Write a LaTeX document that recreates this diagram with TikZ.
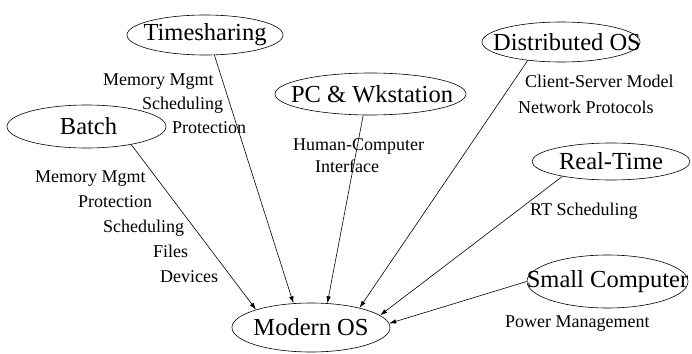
\documentclass[tikz,border=0pt]{standalone}
\usepackage{fontspec}
\setmainfont{Liberation Serif}
\usetikzlibrary{shapes.geometric,arrows.meta}

\begin{document}
\begin{tikzpicture}
    [x=1pt,y=-1pt,
     osnode/.style={draw, ellipse, line width=0.6pt, inner sep=0pt, minimum width=158pt, minimum height=40pt, font=\fontsize{24.5}{28}\selectfont},
     feat/.style={anchor=base west, inner sep=0pt, font=\fontsize{18}{20}\selectfont},
     conn/.style={-{Latex[length=7pt,width=4.5pt]}, line width=0.6pt}]
  \useasboundingbox (0,0) rectangle (692,353);

  \node[osnode, minimum width=156pt] (ts) at (205,35) {\makebox[0pt]{Timesharing}};
  \node[osnode, minimum width=159pt, minimum height=43pt] (batch) at (86.5,126.5) {\makebox[0pt]{\hspace{4pt}Batch}};
  \node[osnode, minimum width=191pt, minimum height=42pt] (pc) at (370.5,94) {\makebox[0pt]{\hspace{3pt}PC \& Wkstation}};
  \node[osnode] (dist) at (561,42) {\makebox[0pt]{\hspace{12pt}Distributed OS}};
  \node[osnode, minimum height=37pt] (rt) at (611,161.5) {\makebox[0pt]{Real-Time}};
  \node[osnode, minimum width=161pt, minimum height=53pt] (small) at (607.5,281.5) {\makebox[0pt]{Small Computer}};
  \node[osnode, minimum height=49pt] (modern) at (311,327.5) {\makebox[0pt]{Modern OS}};

  % what each kind of system brought in
  \node[feat] (ts1) at (103,85) {Memory Mgmt};
  \node[feat] (ts2) at (142,109) {Scheduling};
  \node[feat] (ts3) at (172,133) {Protection};

  \node[feat] (b1) at (35,182) {Memory Mgmt};
  \node[feat] (b2) at (78,207) {Protection};
  \node[feat] (b3) at (103,232) {Scheduling};
  \node[feat] (b4) at (153,257) {Files};
  \node[feat] (b5) at (160,282) {Devices};

  \node[feat] (pc1) at (293,150) {Human-Computer};
  \node[feat] (pc2) at (315,172) {Interface};

  \node[feat] (d1) at (525,87) {Client-Server Model};
  \node[feat] (d2) at (518,113) {Network Protocols};

  \node[feat] (rt1) at (530,215) {RT Scheduling};

  \node[feat] (s1) at (505,327) {Power Management};

  \foreach \from/\a/\b in {batch/-22/162, ts/-65/126, pc/-109/56, dist/-151/22, rt/-163/10, small/180/3}
    \draw[conn] (\from.\a) -- (modern.\b);
\end{tikzpicture}
\end{document}
